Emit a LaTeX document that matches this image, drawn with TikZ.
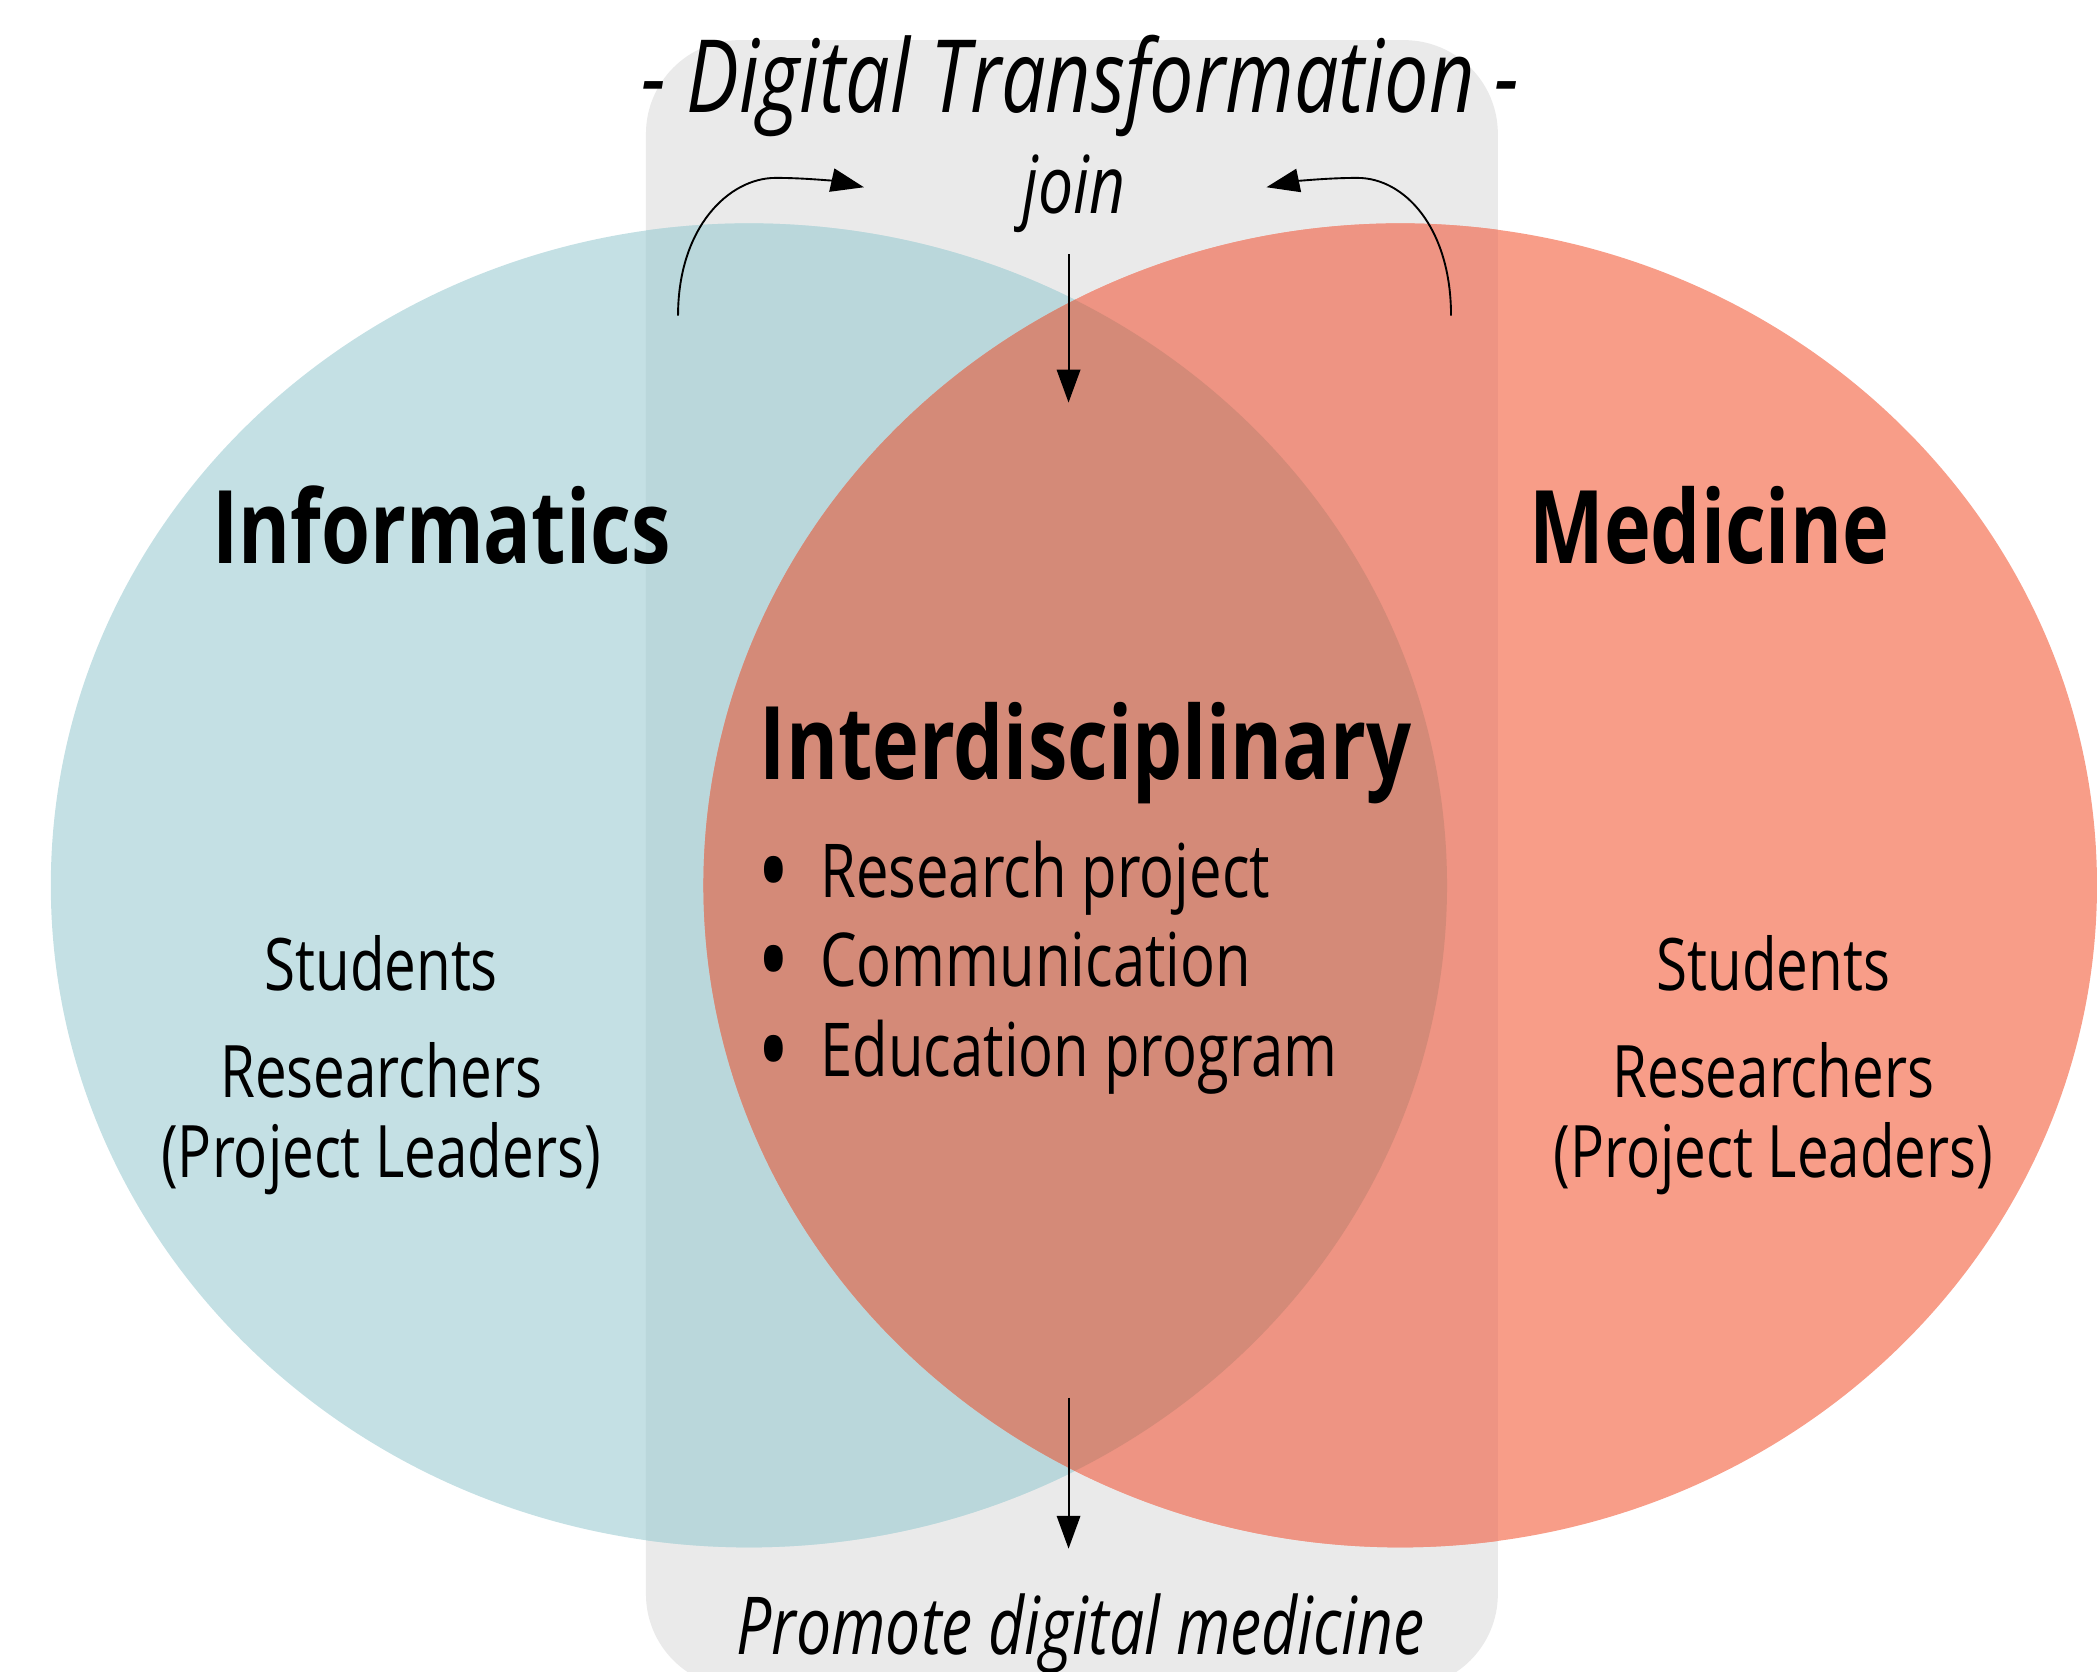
\documentclass[tikz,border=0pt]{standalone}
\usepackage{fontspec}
\setmainfont{Open Sans}[FakeStretch=0.78]
\usetikzlibrary{arrows.meta}
\definecolor{infoblue}{RGB}{196,224,228}
\definecolor{infobluein}{RGB}{186,215,219}
\definecolor{medred}{RGB}{248,157,136}
\definecolor{medredin}{RGB}{238,148,131}
\definecolor{bothred}{RGB}{212,138,120}
\definecolor{dtgray}{RGB}{234,234,234}
\tikzset{>/.tip={Triangle[length=7pt,width=5pt]},
  head/.style={font=\bfseries\fontsize{21.6}{25}\selectfont},
  member/.style={font=\fontsize{15.4}{18}\selectfont},
  topic/.style={font=\fontsize{15.8}{18}\selectfont, anchor=base west},
  flow/.style={font=\itshape\fontsize{17}{20}\selectfont},
  bigflow/.style={font=\itshape\fontsize{21.5}{25}\selectfont}}
\newcommand{\bul}{\makebox[0.47cm][l]{\raisebox{-0.17em}[0pt][0pt]{\scalebox{1.5}{\textbullet}}}}

\begin{document}
\begin{tikzpicture}[x=0.01cm, y=-0.01cm]
\useasboundingbox (0,0) rectangle (1568,1250);

\fill[dtgray, rounded corners=0.7cm] (483,30) rectangle (1120,1262);
\fill[infoblue] (560,662) ellipse [x radius=522, y radius=495];
\fill[medred] (1047,662) ellipse [x radius=521, y radius=495];
\begin{scope}
\clip (483,30) rectangle (1120,1262);
\fill[infobluein] (560,662) ellipse [x radius=522, y radius=495];
\fill[medredin] (1047,662) ellipse [x radius=521, y radius=495];
\clip (1047,662) ellipse [x radius=521, y radius=495];
\fill[bothred] (560,662) ellipse [x radius=522, y radius=495];
\end{scope}

\node[bigflow] (dt) at (808,64) {- Digital Transformation -};
\node[flow] (join) at (803,145) {join};
\node[flow, anchor=base] (promote) at (808,1237) {Promote digital medicine};

\node[head] (info) at (330,393) {Informatics};
\node[head] (med) at (1278,393) {Medicine};
\node[head] (inter) at (812,563) {Interdisciplinary};

\node[topic] (res) at (554,671) {\bul Research project};
\node[topic] (com) at (554,738) {\bul Communication};
\node[topic] (edu) at (554,805) {\bul Education program};

\node[member] (istud) at (285,720) {Students};
\node[member] (ires) at (285,800) {Researchers};
\node[member] (ilead) at (285,866) {(Project Leaders)};
\node[member] (mstud) at (1326,720) {Students};
\node[member] (mres) at (1326,800) {Researchers};
\node[member] (mlead) at (1326,866) {(Project Leaders)};

\coordinate (infofrom) at (507,236);
\coordinate (infoto) at (646,140);
\coordinate (medfrom) at (1085,236);
\coordinate (medto) at (947,140);
\coordinate (joinfrom) at (799,190);
\coordinate (jointo) at (799,301);
\coordinate (outfrom) at (799,1045);
\coordinate (outto) at (799,1158);

\draw[->] (infofrom) .. controls (507,170) and (545,133) .. (580,133) .. controls (605,133) and (628,136) .. (infoto);
\draw[->] (medfrom) .. controls (1085,170) and (1050,133) .. (1015,133) .. controls (990,133) and (966,136) .. (medto);
\draw[->] (joinfrom) to (jointo);
\draw[->] (outfrom) to (outto);
\end{tikzpicture}
\end{document}
